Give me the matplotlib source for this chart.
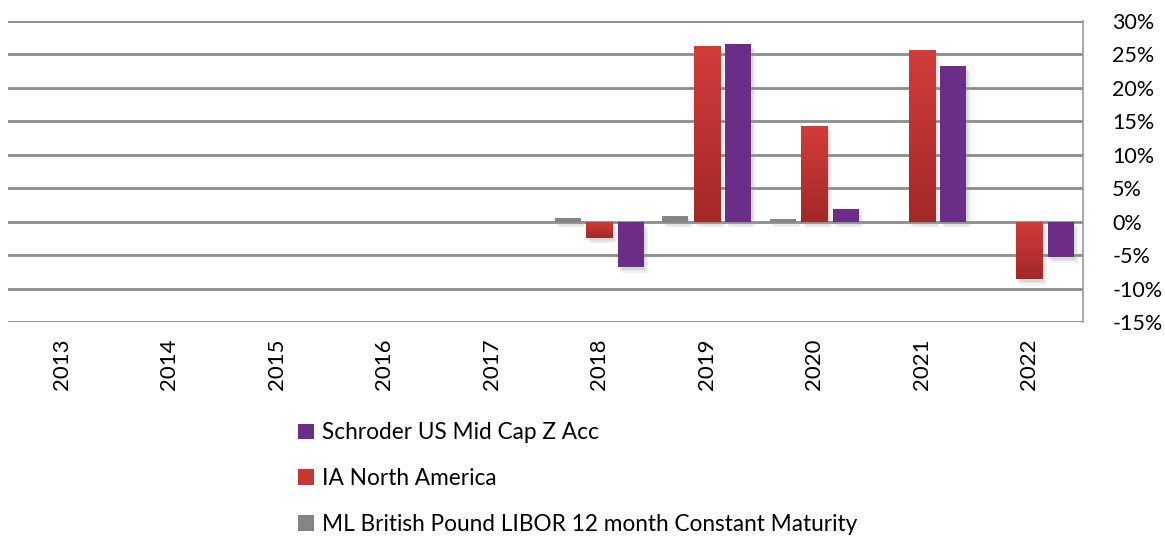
import numpy as np
import matplotlib.pyplot as plt
from matplotlib import patheffects
from matplotlib.colors import LinearSegmentedColormap
from matplotlib.ticker import FuncFormatter

plt.rcParams['font.family'] = ['Lato', 'DejaVu Sans']

years = ['2013', '2014', '2015', '2016', '2017', '2018', '2019', '2020', '2021', '2022']
libor = [0.0, 0.0, 0.0, 0.0, 0.0, 0.6, 0.9, 0.4, 0.0, 0.0]
ia_na = [np.nan] * 5 + [-2.4, 26.3, 14.3, 25.7, -8.6]
schroder = [np.nan] * 5 + [-6.8, 26.6, 1.9, 23.3, -5.3]

series_names = ['ML British Pound LIBOR 12 month Constant Maturity',
                'IA North America', 'Schroder US Mid Cap Z Acc']
grey, red, purple = '#858585', '#C93533', '#6B2D87'
red_cmap = LinearSegmentedColormap.from_list('red', ['#A32828', '#D23C39'])

fig = plt.figure(figsize=(11.65, 5.36), dpi=100)
ax = fig.add_axes([8 / 1165, 1 - 322 / 536, (1083 - 8) / 1165, (322 - 21) / 536])

x = np.arange(len(years))
w = 0.245
step = 0.293
# soft drop shadow, a few faint layers
shadow = [patheffects.SimplePatchShadow(offset=(3, -4), shadow_rgbFace='#999999', alpha=0.12),
          patheffects.SimplePatchShadow(offset=(2, -3), shadow_rgbFace='#999999', alpha=0.15),
          patheffects.SimplePatchShadow(offset=(1, -2), shadow_rgbFace='#999999', alpha=0.15),
          patheffects.Normal()]

for vals, off, col, name in [(libor, -step, grey, series_names[0]),
                             (ia_na, 0, red, series_names[1]),
                             (schroder, step, purple, series_names[2])]:
    bars = ax.bar(x + off, vals, width=w, color=col, label=name, zorder=3)
    for b in bars:
        b.set_path_effects(shadow)
        if col == red and b.get_height() == b.get_height():
            x0, y0 = b.get_x(), b.get_y()
            y1 = y0 + b.get_height()
            grad = np.linspace(0, 1, 100).reshape(-1, 1)
            im = ax.imshow(grad, cmap=red_cmap, origin='lower', aspect='auto',
                           extent=[x0, x0 + b.get_width(), min(y0, y1), max(y0, y1)],
                           zorder=4)
            im.set_clip_path(b)

ax.set_xlim(-0.5, len(years) - 0.5)
ax.set_ylim(-15, 30)
ax.set_yticks(np.arange(-15, 31, 5))
ax.yaxis.set_major_formatter(FuncFormatter(lambda v, p: f'{v:.0f}%'))
ax.yaxis.tick_right()
ax.grid(axis='y', color='#8c8c8c', linewidth=2, zorder=1)
ax.set_axisbelow(True)
for s in ['left', 'top', 'bottom']:
    ax.spines[s].set_visible(False)
ax.spines['right'].set_color('#9a9a9a')
ax.spines['right'].set_linewidth(1.2)
ax.tick_params(axis='y', length=0, labelsize=15.5, pad=21)
ax.tick_params(axis='x', length=0, labelsize=16, pad=12)
ax.set_xticks(x)
ax.set_xticklabels(years, rotation=90)

handles, labels = ax.get_legend_handles_labels()
order = [2, 1, 0]
leg = fig.legend([handles[i] for i in order], [labels[i] for i in order],
                 loc='upper left', bbox_to_anchor=(278 / 1165, 1 - 402 / 536),
                 frameon=False, fontsize=16.3, handlelength=0.7, handleheight=0.7,
                 handletextpad=0.35, labelspacing=1.1)
for h in leg.legend_handles:
    h.set_path_effects([])

fig.savefig('out.png', dpi=100)
